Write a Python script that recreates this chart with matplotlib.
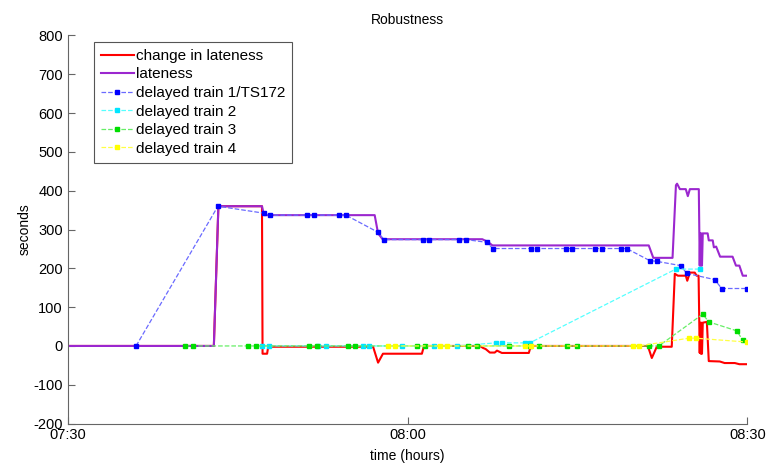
import numpy as np
import matplotlib
matplotlib.use('Agg')
import matplotlib.pyplot as plt

plt.rcParams['font.family'] = ['Liberation Sans', 'DejaVu Sans']
plt.rcParams['axes.unicode_minus'] = False

# time in minutes after 07:30
t_change = [0, 12.9, 13.3, 17.15, 17.2, 17.6, 17.7, 26.96, 27.4, 27.83, 31.27, 31.45,
            36.39, 36.66, 36.9, 37.27, 37.7, 37.9, 38.33, 40.71, 40.89, 51.22, 51.57,
            52.01, 53.33, 53.6, 53.87, 54.57, 54.7, 54.93, 55.36, 55.53, 55.7, 55.8,
            55.84, 55.9, 55.93, 56.0, 56.07, 56.43, 56.6, 57.57, 58.0, 58.9, 59.3, 60]
change = [0, 0, 360, 360, -20, -20, -2, -2, -43, -20, -20, 0,
          0, -5, -8, -17, -17, -12, -18, -18, 0, 0, -31,
          -2, -2, 186, 181, 181, 168, 189, 189, 181, 181, -18,
          60, -20, 60, -20, 60, 62, -39, -40, -44, -44, -47, -47]

t_late = [0, 12.9, 13.3, 17.15, 17.33, 27.1, 27.4, 27.8, 36.6, 37.1, 37.5, 51.3,
          51.7, 53.4, 53.7, 53.8, 54.05, 54.57, 54.75, 54.93, 55.72, 55.8, 55.84,
          55.9, 55.95, 56.0, 56.07, 56.5, 56.6, 56.95, 57.05, 57.25, 57.6, 58.7,
          59.0, 59.3, 59.6, 60]
late = [0, 0, 360, 360, 337, 337, 290, 275, 275, 268, 259, 259,
        227, 227, 414, 418, 404, 404, 386, 404, 404, 207, 290,
        207, 290, 207, 290, 290, 272, 272, 254, 256, 230, 230,
        207, 207, 181, 181]

t_train1 = [6.03, 13.26, 17.33, 17.86, 21.12, 21.74, 23.95, 24.56, 27.39, 27.92,
            31.36, 31.89, 34.53, 35.15, 37.0, 37.53, 40.88, 41.41, 43.97, 44.5,
            46.53, 47.15, 48.82, 49.35, 51.38, 52.0, 54.12, 54.65, 57.12, 57.74, 60]
train1 = [0, 360, 342, 337, 337, 337, 337, 337, 293, 274,
          274, 274, 274, 274, 267, 251, 251, 251, 251, 251,
          251, 251, 251, 251, 220, 218, 207, 187, 171, 148, 148]

t_train2 = [17.15, 17.77, 22.09, 22.8, 26.06, 26.59, 29.51, 32.33, 34.36,
            37.8, 38.33, 40.36, 40.8, 53.69, 55.81]
train2 = [0, 0, 0, 0, 0, 0, 0, 0, 0, 8, 8, 8, 8, 198, 198]

t_train3 = [10.35, 11.06, 15.91, 16.62, 21.3, 22.0, 24.74, 25.36, 30.83, 31.54,
            35.33, 36.13, 38.95, 40.8, 41.6, 44.07, 44.95, 51.3, 52.19,
            56.07, 56.6, 59.07, 59.6]
train3 = [0, 0, 0, 0, 0, 0, 0, 0, 0, 0,
          0, 0, 0, 0, 0, 0, 0, 0, 0,
          82, 62, 39, 15]

t_train4 = [28.27, 28.89, 32.86, 33.48, 40.36, 40.89, 49.89, 50.42, 54.84, 55.46, 60]
train4 = [0, 0, 0, 0, 0, 0, 0, 0, 20, 20, 10]

xticks = [0, 30, 60]
xticklabels = ['07:30', '08:00', '08:30']
yticks = list(range(-200, 801, 100))

fig = plt.figure(figsize=(7.7, 4.66), dpi=100)
ax = fig.add_axes([0.088, 0.091, 0.8825, 0.833])

ax.plot(t_change, change, color='#ff0000', lw=1.5, label='change in lateness')
ax.plot(t_late, late, color='#9b27cf', lw=1.5, label='lateness')
ax.plot(t_train1, train1, '--s', color='#6a6aff', lw=0.9, ms=3,
        mfc='#0000ff', mec='#0000ff', label='delayed train 1/TS172')
ax.plot(t_train2, train2, '--s', color='#55ffff', lw=0.9, ms=3,
        mfc='#00e5ff', mec='#00e5ff', label='delayed train 2')
ax.plot(t_train3, train3, '--s', color='#66ee66', lw=0.9, ms=3,
        mfc='#00dd00', mec='#00dd00', label='delayed train 3')
ax.plot(t_train4, train4, '--s', color='#ffff44', lw=0.9, ms=3,
        mfc='#ffff00', mec='#ffff00', label='delayed train 4')

ax.set_xlim(0, 60)
ax.set_ylim(-200, 800)
ax.set_xticks(xticks)
ax.set_xticklabels(xticklabels)
ax.set_yticks(yticks)
ax.tick_params(direction='in', length=5, color='#666666', labelsize=10.5)
for s in ['top', 'right']:
    ax.spines[s].set_visible(False)
for s in ['left', 'bottom']:
    ax.spines[s].set_color('#666666')

ax.set_title('Robustness', fontsize=10, pad=8)
ax.set_xlabel('time (hours)', fontsize=10, labelpad=5)
ax.set_ylabel('seconds', fontsize=10, labelpad=1.5)

leg = ax.legend(loc='upper left', bbox_to_anchor=(0.0387, 0.983), borderaxespad=0,
                fontsize=11, numpoints=1, handlelength=2.15, handletextpad=0.15,
                labelspacing=0.3, borderpad=0.45, fancybox=False,
                framealpha=1, edgecolor='#555555')
leg.get_frame().set_linewidth(0.8)

plt.savefig('out.png', dpi=100)
